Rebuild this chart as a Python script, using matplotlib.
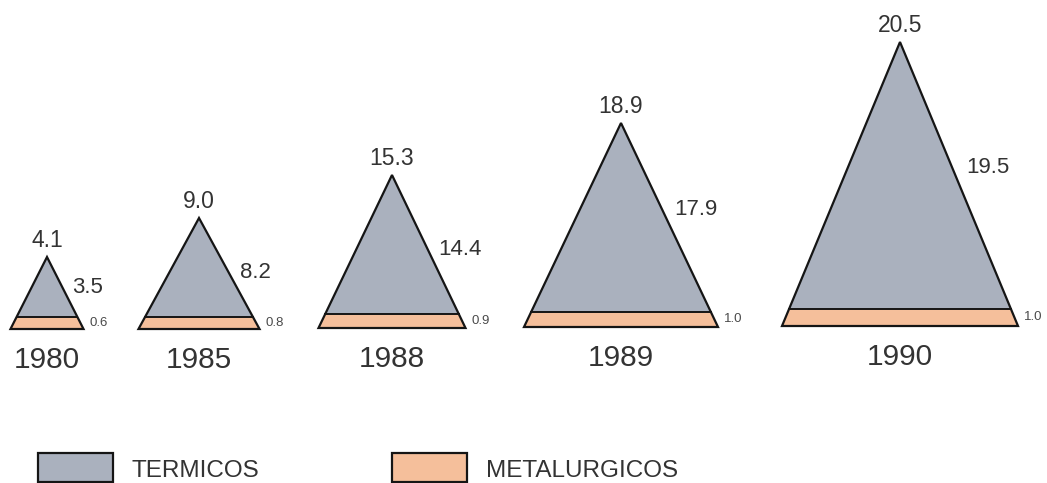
import matplotlib
matplotlib.use("Agg")
import matplotlib.pyplot as plt
from matplotlib.patches import Polygon, Rectangle

# ---- data ----
years = ["1980", "1985", "1988", "1989", "1990"]
totals = [4.1, 9.0, 15.3, 18.9, 20.5]
termicos = [3.5, 8.2, 14.4, 17.9, 19.5]
metalurgicos = [0.6, 0.8, 0.9, 1.0, 1.0]
legend_labels = ["TERMICOS", "METALURGICOS"]

# ---- layout (pixel space of the 1047x483 canvas) ----
centers = [47, 199, 392, 621, 900]
half_widths = [36.5, 60.5, 73.5, 97, 118]
base_y = [329, 329, 328, 327, 326]
heights = [72, 111, 153, 204, 284]
strip_h = [12, 12, 14, 15, 17]
side_label_frac = [0.50, 0.54, 0.52, 0.45, 0.46]
side_label_gap = [7, 8, 8, 10, 12]

GRAY = "#aab1be"
ORANGE = "#f5bf9b"
EDGE = "#151515"
TXT = "#333333"
FONT = "Liberation Sans"

fig = plt.figure(figsize=(10.47, 4.83), dpi=100)
ax = fig.add_axes([0, 0, 1, 1])
ax.set_xlim(0, 1047)
ax.set_ylim(483, 0)
ax.axis("off")

for i in range(len(years)):
    cx, hw, by, h, sh = centers[i], half_widths[i], base_y[i], heights[i], strip_h[i]
    ay = by - h
    sy = by - sh
    shw = hw * (h - sh) / h
    # orange strip (trapezoid)
    ax.add_patch(Polygon([(cx - hw, by), (cx + hw, by), (cx + shw, sy), (cx - shw, sy)],
                         closed=True, facecolor=ORANGE, edgecolor="none", zorder=2))
    # gray upper triangle
    ax.add_patch(Polygon([(cx - shw, sy), (cx + shw, sy), (cx, ay)],
                         closed=True, facecolor=GRAY, edgecolor="none", zorder=2))
    # outline
    ax.add_patch(Polygon([(cx - hw, by), (cx + hw, by), (cx, ay)], closed=True,
                         facecolor="none", edgecolor=EDGE, lw=1.6, joinstyle="miter", zorder=3))
    ax.plot([cx - shw, cx + shw], [sy, sy], color=EDGE, lw=1.4, zorder=3)

    # total label above apex
    ax.text(cx, ay - 10, f"{totals[i]:.1f}", ha="center", va="baseline",
            fontsize=16.5, family=FONT, color=TXT)
    # termicos label on right side
    ly = ay + side_label_frac[i] * h
    lx = cx + hw * (ly - ay) / h + side_label_gap[i]
    ax.text(lx, ly, f"{termicos[i]:.1f}", ha="left", va="baseline",
            fontsize=16, family=FONT, color=TXT)
    # metalurgicos label
    ax.text(cx + hw + 6, by - sh / 2 - 0.5, f"{metalurgicos[i]:.1f}", ha="left", va="center",
            fontsize=9.5, family=FONT, color="#4a4a4a")
    # year label
    ax.text(cx, by + 39, years[i], ha="center", va="baseline",
            fontsize=21.5, family=FONT, color=TXT)

# legend
leg_box_x = [38, 392]
leg_colors = [GRAY, ORANGE]
for x0, c, lab in zip(leg_box_x, leg_colors, legend_labels):
    ax.add_patch(Rectangle((x0, 453), 75, 29, facecolor=c, edgecolor=EDGE, lw=1.6, zorder=3))
    ax.text(x0 + 94, 477, lab, ha="left", va="baseline", fontsize=17.5, family=FONT, color=TXT)

fig.savefig("out.png", dpi=100)
